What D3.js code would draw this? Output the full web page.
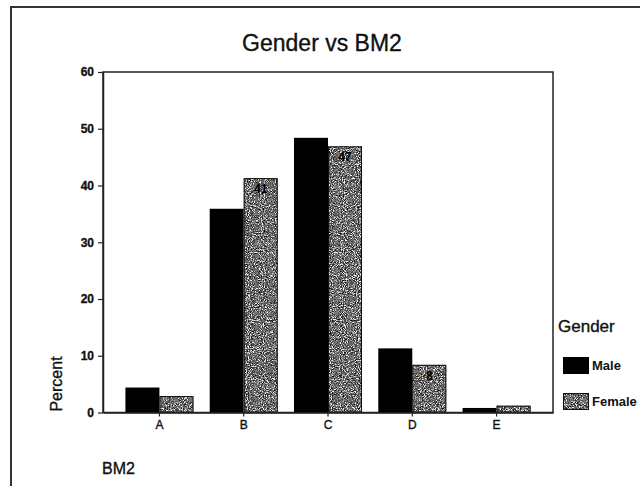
<!DOCTYPE html>
<html>
<head>
<meta charset="utf-8">
<script src="https://cdn.jsdelivr.net/npm/d3@7"></script>
<style>
  html, body { margin: 0; padding: 0; background: #fff; }
  svg { display: block; font-family: "Liberation Sans", Arial, sans-serif; }
  .ink { stroke: #111; stroke-width: 0.35px; }
</style>
</head>
<body>
<svg id="chart" width="640" height="486"></svg>
<script>
// Percent of each gender answering each BM2 category
const categories = ["A", "B", "C", "D", "E"];
const genders = ["Male", "Female"];
const maleValues = [4.4, 35.9, 48.4, 11.3, 0.8];
const femaleValues = [2.9, 41.3, 46.9, 8.4, 1.2];
const yTicks = [0, 10, 20, 30, 40, 50, 60];
// bars whose value is printed inside the bar
const labelledFemale = ["B", "C", "D"];

const rows = categories.map((c, i) => ({ cat: c, Male: maleValues[i], Female: femaleValues[i] }));

const svg = d3.select("#chart");

// grainy fill used for the Female series
const defs = svg.append("defs");
const f = defs.append("filter").attr("id", "grain")
  .attr("x", 0).attr("y", 0).attr("width", 1).attr("height", 1)
  .attr("filterUnits", "objectBoundingBox")
  .attr("color-interpolation-filters", "sRGB");
f.append("feTurbulence").attr("type", "fractalNoise").attr("baseFrequency", 0.93)
  .attr("numOctaves", 2).attr("seed", 7).attr("result", "noise");
f.append("feColorMatrix").attr("in", "noise").attr("type", "matrix")
  .attr("values", "0.33 0.33 0.33 0 0  0.33 0.33 0.33 0 0  0.33 0.33 0.33 0 0  0 0 0 0 1")
  .attr("result", "grey");
const ct = f.append("feComponentTransfer").attr("in", "grey").attr("result", "contrast");
["feFuncR", "feFuncG", "feFuncB"].forEach(fn =>
  ct.append(fn).attr("type", "linear").attr("slope", 3.4).attr("intercept", -1.15));
const ct2 = f.append("feComponentTransfer").attr("in", "contrast").attr("result", "steps");
["feFuncR", "feFuncG", "feFuncB"].forEach(fn =>
  ct2.append(fn).attr("type", "discrete").attr("tableValues", "0.06 0.2 0.32 0.46 0.7 0.95"));
f.append("feComposite").attr("in", "steps").attr("in2", "SourceGraphic").attr("operator", "in");

// outer frame
svg.append("path").attr("d", "M11,486 L11,7 L640,7")
  .attr("fill", "none").attr("stroke", "#333").attr("stroke-width", 2);

// title
svg.append("text").attr("class", "ink").attr("x", 322).attr("y", 51).attr("text-anchor", "middle")
  .attr("font-size", 23).attr("fill", "#111").text("Gender vs BM2");

const plotLeft = 103, plotRight = 553, plotTop = 72, plotBottom = 412.5;

const x = d3.scaleBand().domain(categories).range([plotLeft, plotRight])
  .paddingInner(0.193).paddingOuter(0.266);
const xg = d3.scaleBand().domain(genders).range([0, x.bandwidth()]).padding(0);
const y = d3.scaleLinear().domain([0, 60]).range([plotBottom, plotTop]);

// plot box
svg.append("rect").attr("x", plotLeft).attr("y", plotTop)
  .attr("width", plotRight - plotLeft).attr("height", plotBottom - plotTop)
  .attr("fill", "none").attr("stroke", "#222").attr("stroke-width", 1.5);

// bars
const groups = svg.append("g").selectAll("g").data(rows).join("g")
  .attr("transform", d => `translate(${x(d.cat)},0)`);

groups.append("rect")
  .attr("x", xg("Male")).attr("width", xg.bandwidth())
  .attr("y", d => y(d.Male)).attr("height", d => y(0) - y(d.Male))
  .attr("fill", "#000");

groups.append("rect")
  .attr("x", xg("Female")).attr("width", xg.bandwidth())
  .attr("y", d => y(d.Female)).attr("height", d => y(0) - y(d.Female))
  .attr("fill", "#000").attr("filter", "url(#grain)");

groups.append("rect")
  .attr("x", xg("Female") + 0.5).attr("width", xg.bandwidth() - 1)
  .attr("y", d => y(d.Female) + 0.5).attr("height", d => Math.max(0, y(0) - y(d.Female) - 1))
  .attr("fill", "none").attr("stroke", "#111").attr("stroke-width", 1);

groups.filter(d => labelledFemale.includes(d.cat)).append("text")
  .attr("x", xg("Female") + xg.bandwidth() / 2)
  .attr("y", d => y(d.Female) + 15)
  .attr("text-anchor", "middle").attr("font-size", 12).attr("font-weight", "bold")
  .attr("fill", "#000").text(d => Math.round(d.Female));

// axes
const yAxis = svg.append("g").attr("transform", `translate(${plotLeft},0)`)
  .call(d3.axisLeft(y).tickValues(yTicks).tickSize(5).tickSizeOuter(0).tickPadding(4));
yAxis.select(".domain").attr("stroke", "#222").attr("stroke-width", 1.5);
yAxis.selectAll(".tick line").attr("stroke", "#222").attr("stroke-width", 1.2);
yAxis.selectAll("text").attr("class", "ink").attr("font-size", 12).attr("font-weight", "bold")
  .attr("font-family", "'Liberation Sans', Arial, sans-serif").attr("fill", "#111");

const xAxis = svg.append("g").attr("transform", `translate(0,${plotBottom})`)
  .call(d3.axisBottom(x).tickSize(4).tickSizeOuter(0).tickPadding(4));
xAxis.select(".domain").attr("stroke", "#222").attr("stroke-width", 1.5);
xAxis.selectAll(".tick line").attr("stroke", "#222").attr("stroke-width", 1.2);
xAxis.selectAll("text").attr("class", "ink").attr("font-size", 12)
  .attr("font-family", "'Liberation Sans', Arial, sans-serif").attr("fill", "#111");

// axis titles
svg.append("text").attr("class", "ink").attr("transform", "translate(62,384) rotate(-90)")
  .attr("text-anchor", "middle").attr("font-size", 16).attr("fill", "#111").text("Percent");
svg.append("text").attr("class", "ink").attr("x", 102).attr("y", 474)
  .attr("font-size", 16).attr("fill", "#111").text("BM2");

// legend
const legend = svg.append("g");
legend.append("text").attr("class", "ink").attr("x", 558).attr("y", 332)
  .attr("font-size", 17).attr("fill", "#111").text("Gender");
const legendRows = [
  { key: "Male", y: 357 },
  { key: "Female", y: 393 }
];
legendRows.forEach(r => {
  const sw = legend.append("rect").attr("x", 563).attr("y", r.y)
    .attr("width", 26).attr("height", 17).attr("fill", "#000");
  if (r.key === "Female") {
    sw.attr("filter", "url(#grain)");
    legend.append("rect").attr("x", 563.5).attr("y", r.y + 0.5)
      .attr("width", 25).attr("height", 16).attr("fill", "none").attr("stroke", "#111");
  }
  legend.append("text").attr("x", 592).attr("y", r.y + 13)
    .attr("font-size", 13).attr("font-weight", "bold").attr("fill", "#111").text(r.key);
});
</script>
</body>
</html>
